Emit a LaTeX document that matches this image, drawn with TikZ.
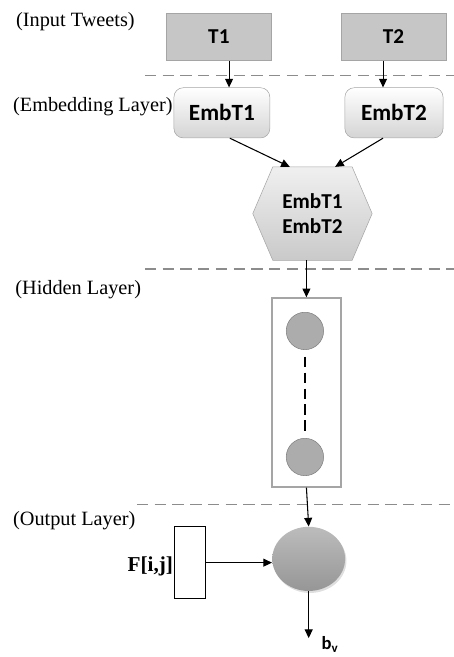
\documentclass[tikz,border=0pt]{standalone}
\usepackage{fontspec}
\setmainfont{Liberation Serif}
\newfontfamily\labelfont{Carlito}
\usetikzlibrary{arrows.meta,backgrounds,shadows,shapes.geometric}
\definecolor{tweetgray}{RGB}{198,198,198}
\definecolor{edgegray}{RGB}{165,165,165}
\definecolor{embgray}{RGB}{212,212,212}
\definecolor{nodegray}{RGB}{172,172,172}
\definecolor{sepgray}{RGB}{140,140,140}
\definecolor{outlight}{RGB}{188,188,188}
\definecolor{outdark}{RGB}{150,150,150}

\tikzset{
  tweet/.style={draw=edgegray,fill=tweetgray,minimum width=2.8cm,
    minimum height=1.25cm,font=\labelfont\bfseries\fontsize{16}{18}\selectfont},
  embed/.style={draw=edgegray,rounded corners=7pt,top color=white,
    bottom color=embgray,minimum height=1.33cm,
    font=\labelfont\bfseries\fontsize{17.5}{20}\selectfont},
  layername/.style={anchor=west,inner sep=0pt,font=\fontsize{15.3}{18}\selectfont},
  sepline/.style={sepgray,line width=0.9pt,dash pattern=on 0.3cm off 0.17cm},
  arr/.style={-{Triangle[length=2.3mm,width=2.1mm]},line width=0.8pt},
  unit/.style={circle,draw=gray,fill=nodegray,minimum size=0.99cm,inner sep=0pt},
}

\begin{document}
\begin{tikzpicture}
  \useasboundingbox (0,0) rectangle (12.03,17.41);

  % layer names
  \node[layername] (lin) at (0.42,16.83) {(Input Tweets)};
  \node[layername] (lemb) at (0.34,14.59) {(Embedding Layer)};
  \node[layername] (lhid) at (0.40,9.73) {(Hidden Layer)};
  \node[layername] (lout) at (0.34,3.60) {(Output Layer)};

  % separators
  \draw[sepline] (3.84,15.40) -- (12.03,15.40);
  \draw[sepline] (3.84,10.28) -- (12.03,10.28);
  \draw[sepline] (3.63,4.05) -- (12.03,4.05);

  % input + embedding
  \node[tweet] (t1) at (5.80,16.43) {T1};
  \node[tweet] (t2) at (10.43,16.43) {T2};
  \node[embed,minimum width=2.54cm] (e1) at (5.88,14.42) {EmbT1};
  \node[embed,minimum width=2.6cm] (e2) at (10.44,14.42) {EmbT2};

  \draw[arr] ([xshift=0.27cm]t1.south) -- ([xshift=0.27cm]t1.south |- e1.north);
  \draw[arr] ([xshift=-0.28cm]t2.south) -- ([xshift=-0.28cm]t2.south |- e2.north);

  % concatenation
  \node[minimum width=2.09cm,minimum height=2.46cm,align=center,
        font=\labelfont\bfseries\fontsize{16}{19}\selectfont]
    (hex) at (8.28,11.75) {EmbT1\\EmbT2};
  \begin{scope}[on background layer]
    \draw[edgegray,top color=white!94!black,bottom color=embgray!95!black]
      (hex.north west) -- (hex.north east) -- ([xshift=0.53cm]hex.east)
      -- (hex.south east) -- (hex.south west) -- ([xshift=-0.53cm]hex.west)
      -- cycle;
  \end{scope}

  \draw[arr] ([xshift=0.21cm]e1.south) -- ([xshift=-0.6cm]hex.north);
  \draw[arr] ([xshift=-0.29cm]e2.south) -- ([xshift=0.6cm]hex.north);

  % hidden layer
  \node[draw=edgegray,line width=1pt,minimum width=1.83cm,minimum height=5.01cm]
    (hid) at (8.12,7.01) {};
  \node[unit] (h1) at (8.08,8.64) {};
  \node[unit] (h2) at (8.08,5.30) {};
  \draw[line width=1.5pt,dash pattern=on 8pt off 4pt,
        shorten <=0.18cm,shorten >=0.13cm] (h1) -- (h2);

  \draw[arr] (hex.south -| hid.north) -- (hid.north);

  % output layer
  \node[ellipse,minimum width=1.93cm,minimum height=1.70cm,
        top color=outlight,bottom color=outdark,
        drop shadow={opacity=0.25,shadow xshift=1pt,shadow yshift=-1.5pt}]
    (out) at (8.18,2.60) {};
  \node[draw,line width=0.8pt,fill=white,minimum width=0.80cm,minimum height=1.91cm]
    (fij) at (5.035,2.50) {};
  \node[anchor=east,inner sep=0pt,font=\bfseries\fontsize{16}{19}\selectfont]
    (flab) at (4.59,2.39) {F[i,j]};

  \draw[arr] (hid.south) -- (out.north);
  \draw[arr] (fij.east) -- (fij.east -| out.west);

  \coordinate (bend) at (8.18,0.50);
  \draw[arr] (out.south) -- (bend)
    node[anchor=north west,inner sep=0pt,xshift=0.33cm,yshift=0.05cm,
         font=\labelfont\bfseries\fontsize{14}{16}\selectfont] (bv) {b\textsubscript{v}};
\end{tikzpicture}
\end{document}
